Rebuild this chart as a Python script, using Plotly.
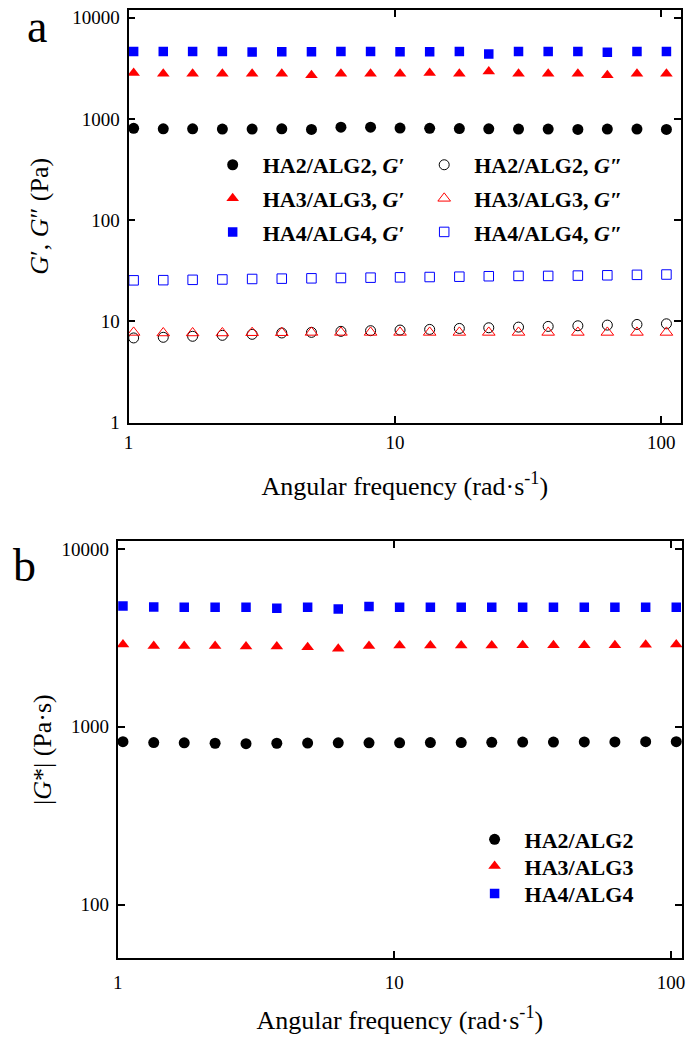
import plotly.graph_objects as go

# ---------------- data ----------------
freq = [1.045, 1.35, 1.74, 2.25, 2.91, 3.76, 4.86, 6.27, 8.10, 10.45,
        13.5, 17.45, 22.5, 29.1, 37.6, 48.6, 62.7, 81.0, 104.5]

# panel a: storage modulus G'
gp_ha2 = [810, 800, 800, 795, 795, 800, 790, 830, 830, 815,
          810, 805, 800, 795, 795, 790, 795, 795, 790]
gp_ha3 = [2850, 2800, 2800, 2800, 2800, 2800, 2700, 2800, 2800, 2800,
          2850, 2800, 2950, 2800, 2800, 2800, 2700, 2800, 2800]
gp_ha4 = [4650, 4650, 4650, 4650, 4600, 4620, 4620, 4650, 4650, 4620,
          4620, 4650, 4400, 4650, 4650, 4650, 4580, 4650, 4650]
# panel a: loss modulus G''
gpp_ha2 = [6.88, 6.98, 7.14, 7.30, 7.47, 7.70, 7.81, 7.99, 8.11, 8.23,
           8.35, 8.54, 8.67, 8.80, 8.94, 9.07, 9.21, 9.35, 9.49]
gpp_ha3 = [7.8, 7.7, 7.7, 7.7, 7.75, 7.75, 7.8, 7.8, 7.8, 7.8,
           7.8, 7.8, 7.8, 7.8, 7.8, 7.8, 7.8, 7.8, 7.8]
gpp_ha4 = [25.5, 25.6, 25.8, 26.0, 26.3, 26.5, 26.7, 26.9, 27.1, 27.3,
           27.5, 27.7, 28.0, 28.2, 28.2, 28.4, 28.6, 28.9, 29.1]

# panel b: complex modulus |G*|
gs_ha2 = [825, 815, 812, 808, 803, 808, 810, 812, 812, 812,
          815, 815, 818, 820, 820, 822, 822, 825, 825]
gs_ha3 = [2900, 2850, 2850, 2850, 2830, 2830, 2800, 2750, 2850, 2870,
          2870, 2870, 2870, 2880, 2880, 2880, 2880, 2890, 2900]
gs_ha4 = [4780, 4720, 4700, 4700, 4700, 4650, 4700, 4600, 4750, 4700,
          4700, 4700, 4700, 4700, 4700, 4700, 4700, 4700, 4700]

y_ticks_a = [1, 10, 100, 1000, 10000]
y_ticks_b = [100, 1000, 10000]
x_ticks = [1, 10, 100]

FONT = "Liberation Serif"
W, H = 689, 1050

fig = go.Figure()

legends = {}

def add(x, y, name, symbol, color, size, xa, ya, legend, lx, ly):
    marker = dict(symbol=symbol, size=size, color=color,
                  line=dict(color=color, width=1 if "open" in symbol else 0))
    fig.add_trace(go.Scatter(x=x, y=y, mode="markers", name=name, marker=marker,
                             xaxis=xa, yaxis=ya, legend=legend, showlegend=True))
    legends[legend] = dict(x=lx / W, y=1 - ly / H, xanchor="left", yanchor="middle",
                           bgcolor="rgba(0,0,0,0)", itemwidth=50,
                           font=dict(family=FONT, size=22, color="black"))

# panel a, column 1 (G')
add(freq, gp_ha2, "<b>HA2/ALG2, <i>G′</i></b>", "circle", "#000000", 11, "x", "y", "legend", 200, 165)
add(freq, gp_ha3, "<b>HA3/ALG3, <i>G′</i></b>", "triangle-up", "#ff0000", 11, "x", "y", "legend2", 200, 199)
add(freq, gp_ha4, "<b>HA4/ALG4, <i>G′</i></b>", "square", "#0000ff", 9.5, "x", "y", "legend3", 200, 233)
# panel a, column 2 (G'')
add(freq, gpp_ha2, "<b>HA2/ALG2, <i>G″</i></b>", "circle-open", "#000000", 10, "x", "y", "legend4", 414, 165)
add(freq, gpp_ha3, "<b>HA3/ALG3, <i>G″</i></b>", "triangle-up-open", "#ff0000", 11, "x", "y", "legend5", 414, 199)
add(freq, gpp_ha4, "<b>HA4/ALG4, <i>G″</i></b>", "square-open", "#0000ff", 9.5, "x", "y", "legend6", 414, 233)
# panel b
add(freq, gs_ha2, "<b>HA2/ALG2</b>", "circle", "#000000", 11, "x2", "y2", "legend7", 465, 848)
add(freq, gs_ha3, "<b>HA3/ALG3</b>", "triangle-up", "#ff0000", 11, "x2", "y2", "legend8", 465, 875)
add(freq, gs_ha4, "<b>HA4/ALG4</b>", "square", "#0000ff", 9.5, "x2", "y2", "legend9", 465, 903)

axis_common = dict(type="log", showgrid=False, zeroline=False, showline=True,
                   linecolor="black", linewidth=1.8, mirror="ticks", ticks="inside",
                   ticklen=7, tickwidth=1.5, tickcolor="black",
                   tickfont=dict(family=FONT, size=19, color="black"))

title_font = dict(family=FONT, size=26, color="black")

fig.update_layout(
    width=W, height=H, margin=dict(l=0, r=0, t=0, b=0),
    paper_bgcolor="white", plot_bgcolor="white",
    font=dict(family=FONT, color="black"),
    showlegend=True,
    xaxis=dict(axis_common, domain=[125 / W, 684 / W], range=[0, 2.074], anchor="y",
               tickvals=x_ticks, ticktext=[str(v) for v in x_ticks], ticklabelstandoff=2,
               title=dict(text="Angular frequency (rad·s<sup>-1</sup>)", font=title_font, standoff=24)),
    yaxis=dict(axis_common, domain=[1 - 426 / H, 1 - 8 / H], range=[0, 4.078], anchor="x",
               tickvals=y_ticks_a, ticktext=[str(v) for v in y_ticks_a], ticklabelstandoff=3,
               title=dict(text="<i>G</i>′, <i>G</i>″ (Pa)", font=title_font, standoff=16)),
    xaxis2=dict(axis_common, domain=[114 / W, 685 / W], range=[0, 2.04], anchor="y2",
                tickvals=x_ticks, ticktext=[str(v) for v in x_ticks], ticklabelstandoff=6,
                title=dict(text="Angular frequency (rad·s<sup>-1</sup>)", font=title_font, standoff=19)),
    yaxis2=dict(axis_common, domain=[1 - 968 / H, 1 - 546 / H], range=[1.699, 4.044], anchor="x2",
                tickvals=y_ticks_b, ticktext=[str(v) for v in y_ticks_b], ticklabelstandoff=3,
                title=dict(text="|<i>G</i>*| (Pa·s)", font=title_font, standoff=2)),
    annotations=[
        dict(text="a", x=32 / W, y=1 - 25 / H, xref="paper", yref="paper",
             xanchor="center", yanchor="middle",
             showarrow=False, font=dict(family=FONT, size=46, color="black")),
        dict(text="b", x=20 / W, y=1 - 571 / H, xref="paper", yref="paper",
             xanchor="center", yanchor="middle",
             showarrow=False, font=dict(family=FONT, size=46, color="black")),
    ],
)
fig.update_layout(**legends)

fig.write_html("out.html",
               config={"displayModeBar": False},
               post_script="document.body.style.margin='0px';"
                           "document.documentElement.style.overflow='hidden';")
